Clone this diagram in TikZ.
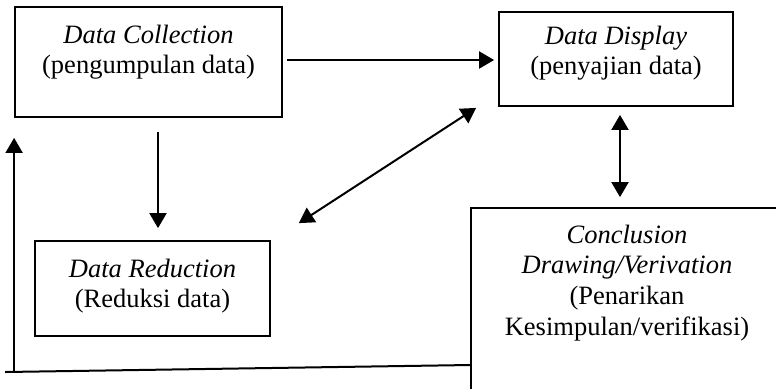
\documentclass[tikz,border=0pt]{standalone}
\usepackage{fontspec}
\setmainfont{Liberation Serif}
\usepackage{tikz}
\usetikzlibrary{arrows.meta}
\tikzstyle{process} = [rectangle, draw=black, fill=white, line width=0.9pt, inner xsep=0pt, inner ysep=0pt, align=center]
\tikzstyle{arrow} = [line width=1pt,->,>={Triangle[length=7.5pt,width=8.5pt]}]
\tikzstyle{darrow} = [line width=1pt,<->,>={Triangle[length=7.5pt,width=8.5pt]}]

\begin{document}
\begin{tikzpicture}[node distance=115pt, every node/.style={font=\fontsize{13.25pt}{15.35pt}\selectfont}]
		\clip (0,0) rectangle (388pt,-194pt);
		\node (dc) [process, minimum width=133.5pt, text height=33.35pt, text depth=21.65pt] at (74.25pt,-31pt) {\textit{Data Collection}\\(pengumpulan data)};
		\node (dd) [process, right of=dc, xshift=118.75pt, yshift=1.5pt, minimum width=117pt, text height=31.35pt, text depth=15.65pt] {\textit{Data Display}\\(penyajian data)};
		\node (dr) [process, below of=dc, xshift=2pt, yshift=1.75pt, minimum width=117.5pt, text height=33.35pt, text depth=14.15pt] {\textit{Data Reduction}\\(Reduksi data)};
		\node (cd) [process, below of=dd, xshift=5.5pt, yshift=-12.5pt, minimum width=156pt, text height=63.55pt, text depth=42.45pt] {\textit{Conclusion}\\\textit{Drawing/Verivation}\\(Penarikan\\Kesimpulan/verifikasi)};

		\coordinate (dlo) at ([xshift=14pt,yshift=8.5pt]dr.north east);
		\coordinate (dhi) at ([xshift=-11pt,yshift=-0.5pt]dd.south west);
		\coordinate (fbr) at ([yshift=-25.5pt]cd.west);
		\coordinate (fbl) at ([xshift=-4.5pt]dc.west |- 0,-186pt);
		\coordinate (fbc) at (dc.west |- 0,-186pt);

		\draw [arrow, shorten <=2pt, shorten >=2pt] ([yshift=1pt]dc.east) -- ([yshift=1pt]dc.east -| dd.west);
		\draw [arrow, shorten <=7pt, shorten >=6pt] ([xshift=4.75pt]dc.south) -- ([xshift=4.75pt]dc.south |- dr.north);
		\draw [darrow] (dlo) -- (dhi);
		\draw [darrow, shorten <=4pt, shorten >=5pt] ([xshift=2pt]dd.south) -- ([xshift=2pt]dd.south |- cd.north);
		\draw [line width=1pt] (fbr) -- (fbl);
		\draw [arrow] (fbc) -- ([yshift=-10pt]dc.south west);
	\end{tikzpicture}
\end{document}
